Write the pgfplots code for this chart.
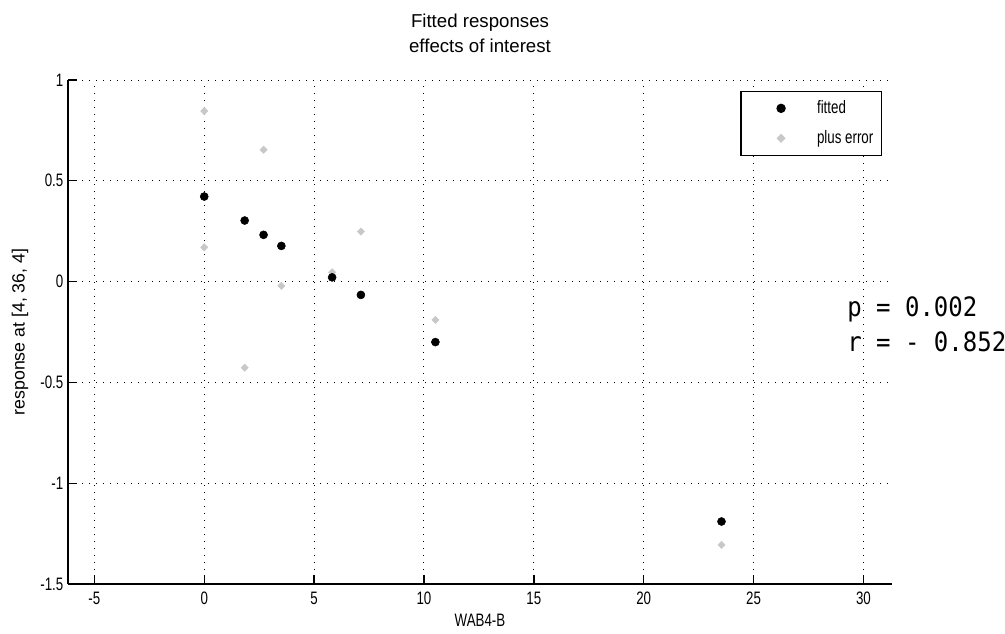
\documentclass[border=0pt]{standalone}
\usepackage{fontspec}
\setmainfont{Liberation Sans}
\newfontfamily\narrowfont[FakeStretch=0.74]{Liberation Sans}
\newfontfamily\pvalfont[FakeStretch=0.9]{DejaVu Sans Mono}
\usepackage{pgfplots}
\pgfplotsset{compat=1.18}

\definecolor{errgray}{RGB}{200,200,200}

% legend image: mark 30pt in from the box edge, text 57pt in
\pgfplotsset{
  mleg/.style={legend image code/.code={%
    \path[draw=none, fill=none] (0pt,0pt) -- (41pt,0pt);
    \draw[##1] plot coordinates {(24pt,0pt)};}},
}

\begin{document}
\begin{tikzpicture}
  \path[use as bounding box] (-51pt,-36.75pt) rectangle (702.75pt,438pt);
  \begin{axis}[
    scale only axis,
    width=618pt, height=378pt,
    xmin=-6.2, xmax=31.3,
    ymin=-1.5, ymax=1,
    axis x line*=bottom,
    axis y line*=left,
    axis line style={line width=1.1pt},
    tick align=inside,
    major tick length=7pt,
    tick style={black, line width=1pt},
    xtick={-5,0,5,10,15,20,25,30},
    xticklabels={-5,0,5,10,15,20,25,30},
    ytick={-1.5,-1,-0.5,0,0.5,1},
    yticklabels={-1.5,-1,-0.5,0,0.5,1},
    ticklabel style={font=\fontsize{13.5}{16}\narrowfont},
    xticklabel style={yshift=-2.25pt},
    grid=major,
    grid style={black, line width=0.75pt, dash pattern=on 0.75pt off 4.5pt},
    title={Fitted responses\\effects of interest},
    title style={at={(0.5,1)}, anchor=south, align=center, inner sep=0pt,
      text depth=0pt, yshift=14.25pt, font=\fontsize{14}{18.75}\selectfont},
    xlabel={WAB4-B},
    xlabel style={at={(axis description cs:0.5,0)}, anchor=center,
      yshift=-27pt, font=\fontsize{13.5}{16}\narrowfont},
    ylabel={response at [4, 36, 4]},
    every axis y label/.style={at={(axis description cs:-0.0583,0.5)},
      rotate=90, anchor=center, font=\fontsize{13.3}{16}\selectfont},
    reverse legend,
    legend style={at={(1,1)}, anchor=north east, xshift=-7.5pt, yshift=-8pt,
      draw=black, line width=1pt, fill=white,
      inner xsep=6pt, inner ysep=6.25pt,
      column sep=10pt, row sep=9.5pt,
      nodes={inner sep=0pt, text height=10pt, text depth=3pt},
      font=\fontsize{13.5}{16}\narrowfont},
    legend cell align=left,
  ]
    \addplot[only marks, mark=square*, mark size=1.9pt,
      mark options={rotate=45, draw=errgray, fill=errgray},
      draw=errgray, fill=errgray, mleg] coordinates {
      (0,0.846) (0,0.170) (1.84,-0.427) (2.70,0.654) (3.51,-0.021)
      (5.82,0.046) (7.13,0.248) (10.52,-0.190) (23.54,-1.306)
    };
    \addlegendentry{plus error}
    \addplot[only marks, mark=*, mark size=3pt,
      draw=black, fill=black, mleg] coordinates {
      (0,0.422) (1.84,0.303) (2.70,0.232) (3.51,0.177)
      (5.82,0.021) (7.13,-0.066) (10.52,-0.300) (23.54,-1.190)
    };
    \addlegendentry{fitted}
  \end{axis}
  \node[anchor=base west, inner sep=0pt, font=\fontsize{20}{22}\pvalfont]
    at (584.25pt,200.5pt) {p = 0.002};
  \node[anchor=base west, inner sep=0pt, font=\fontsize{20}{22}\pvalfont]
    at (584.25pt,174.2pt) {r = - 0.852};
\end{tikzpicture}
\end{document}
